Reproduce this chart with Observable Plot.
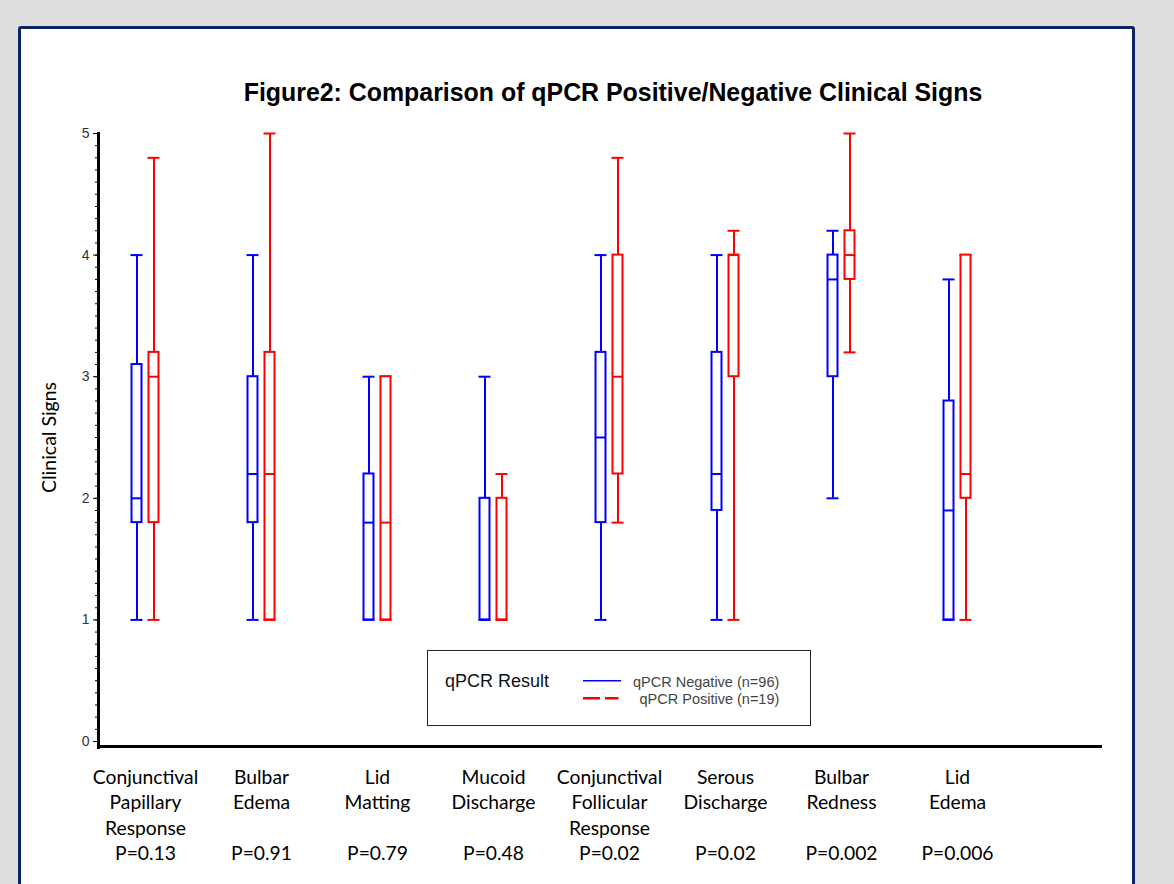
<!DOCTYPE html>
<html>
<head>
<meta charset="utf-8">
<script src="https://cdn.jsdelivr.net/npm/d3@7"></script>
<script src="https://cdn.jsdelivr.net/npm/@observablehq/plot@0.6"></script>
<style>
html, body { margin: 0; padding: 0; background: #dedede; width: 1174px; height: 884px; overflow: hidden; position: relative; }
#panel { position: absolute; left: 18px; top: 26px; width: 1111px; height: 900px; border: 3.5px solid #0c2461; border-radius: 3px; background: #fff; }
#title { position: absolute; left: 213px; top: 79.5px; width: 800px; text-align: center; font: bold 24.9px "Liberation Sans", Arial, sans-serif; line-height: 1; color: #000; white-space: nowrap; }
#chart { position: absolute; left: 0; top: 0; }
#legend { position: absolute; left: 427px; top: 650px; }
</style>
</head>
<body>
<div id="panel"></div>
<div id="chart"></div>
<div id="title">Figure2: Comparison of qPCR Positive/Negative Clinical Signs</div>
<svg id="legend" width="384" height="76"></svg>
<script>
// ---- data ----
const categories = ["Conjunctival Papillary Response", "Bulbar Edema", "Lid Matting", "Mucoid Discharge",
  "Conjunctival Follicular Response", "Serous Discharge", "Bulbar Redness", "Lid Edema"];
const categoryLabels = ["Conjunctival\nPapillary\nResponse", "Bulbar\nEdema", "Lid\nMatting", "Mucoid\nDischarge",
  "Conjunctival\nFollicular\nResponse", "Serous\nDischarge", "Bulbar\nRedness", "Lid\nEdema"];
const pValues = ["P=0.13", "P=0.91", "P=0.79", "P=0.48", "P=0.02", "P=0.02", "P=0.002", "P=0.006"];
const groups = ["qPCR Negative (n=96)", "qPCR Positive (n=19)"];
const legendTitle = "qPCR Result";
const yLabel = "Clinical Signs";
const yTicks = [0, 1, 2, 3, 4, 5];

// qPCR Negative
const negLow    = [1.0, 1.0, 1.0, 1.0, 1.0, 1.0, 2.0, 1.0];
const negQ1     = [1.8, 1.8, 1.0, 1.0, 1.8, 1.9, 3.0, 1.0];
const negMedian = [2.0, 2.2, 1.8, 1.0, 2.5, 2.2, 3.8, 1.9];
const negQ3     = [3.1, 3.0, 2.2, 2.0, 3.2, 3.2, 4.0, 2.8];
const negHigh   = [4.0, 4.0, 3.0, 3.0, 4.0, 4.0, 4.2, 3.8];
// qPCR Positive
const posLow    = [1.0, 1.0, 1.0, 1.0, 1.8, 1.0, 3.2, 1.0];
const posQ1     = [1.8, 1.0, 1.0, 1.0, 2.2, 3.0, 3.8, 2.0];
const posMedian = [3.0, 2.2, 1.8, 1.0, 3.0, 4.0, 4.0, 2.2];
const posQ3     = [3.2, 3.2, 3.0, 2.0, 4.0, 4.0, 4.2, 4.0];
const posHigh   = [4.8, 5.0, 3.0, 2.2, 4.8, 4.2, 5.0, 4.0];

// ---- table ----
const series = [
  {group: groups[0], low: negLow, q1: negQ1, median: negMedian, q3: negQ3, high: negHigh},
  {group: groups[1], low: posLow, q1: posQ1, median: posMedian, q3: posQ3, high: posHigh}
];
const rows = series.flatMap(s => categories.map((c, i) => ({
  category: c, group: s.group, low: s.low[i], q1: s.q1[i], median: s.median[i], q3: s.q3[i], high: s.high[i]
})));

const colors = ["#0000ff", "#ff0000"];
const offsets = [-8.5, 8.5];

function boxMarks(g, k) {
  const data = rows.filter(d => d.group === g);
  const common = {stroke: "group", strokeWidth: 2, dx: offsets[k]};
  return [
    Plot.ruleX(data, {x: "category", y1: "low", y2: "high", ...common}),
    Plot.ruleY(data, {x1: "category", x2: "category", y: "low", insetLeft: -6, insetRight: -6, ...common}),
    Plot.ruleY(data, {x1: "category", x2: "category", y: "high", insetLeft: -6, insetRight: -6, ...common}),
    Plot.rect(data, {x1: "category", x2: "category", y1: "q1", y2: "q3", insetLeft: -5, insetRight: -5, fill: "white", ...common}),
    Plot.ruleY(data, {x1: "category", x2: "category", y: "median", insetLeft: -5, insetRight: -5, ...common})
  ];
}

const chart = Plot.plot({
  width: 1174,
  height: 884,
  marginLeft: 98,
  marginRight: 72,
  marginTop: 133,
  marginBottom: 143,
  style: {background: "transparent", overflow: "visible", fontFamily: "'Liberation Sans', Arial, sans-serif"},
  x: {type: "point", domain: categories, range: [144.2, 958.5], padding: 0, axis: null},
  y: {domain: [0, 5]},
  color: {domain: groups, range: colors},
  marks: [
    Plot.axisY(d3.range(0, 5.001, 0.1), {tickSize: 3, tickFormat: () => "", label: null, stroke: "#000"}),
    Plot.axisY(yTicks, {tickSize: 5, tickPadding: 4, fontSize: 14, fill: "#333", stroke: "#000", label: null, tickFormat: d => String(d)}),
    Plot.frame({anchor: "left", strokeWidth: 3, stroke: "#000", insetBottom: -6}),
    Plot.ruleY([0], {dy: 5, strokeWidth: 3, stroke: "#000"}),
    ...groups.flatMap((g, k) => boxMarks(g, k)),
    Plot.text([yLabel], {frameAnchor: "left", textAnchor: "middle", rotate: -90, dx: -49, fontSize: 19.5, fontFamily: "Lato", fill: "#000"}),
    Plot.text(categories, {x: d => d, text: (d, i) => categoryLabels[i], frameAnchor: "bottom", lineAnchor: "top",
      dy: 24, fontSize: 19.3, lineHeight: 1.32, fontFamily: "Lato", fill: "#000"}),
    Plot.text(categories, {x: d => d, text: (d, i) => pValues[i], frameAnchor: "bottom", lineAnchor: "top",
      dy: 105, fontSize: 19.3, fontFamily: "Lato", fill: "#000"})
  ]
});
document.getElementById("chart").appendChild(chart);

// ---- legend ----
const lg = d3.select("#legend");
lg.append("rect").attr("x", 0.5).attr("y", 0.5).attr("width", 383).attr("height", 75)
  .attr("fill", "white").attr("stroke", "#222").attr("stroke-width", 1);
lg.append("text").attr("x", 18).attr("y", 36.7).attr("font-family", "'Liberation Sans', Arial, sans-serif")
  .attr("font-size", 18).attr("fill", "#111").text(legendTitle);
lg.append("line").attr("x1", 156).attr("x2", 194).attr("y1", 30.7).attr("y2", 30.7)
  .attr("stroke", colors[0]).attr("stroke-width", 1.5);
lg.append("line").attr("x1", 156).attr("x2", 191.5).attr("y1", 48.3).attr("y2", 48.3)
  .attr("stroke", colors[1]).attr("stroke-width", 2.5).attr("stroke-dasharray", "17 5");
lg.append("text").attr("x", 206).attr("y", 36.7).attr("font-family", "'Liberation Sans', Arial, sans-serif")
  .attr("font-size", 14.5).attr("fill", "#444").text(groups[0]);
lg.append("text").attr("x", 212.5).attr("y", 54).attr("font-family", "'Liberation Sans', Arial, sans-serif")
  .attr("font-size", 14.5).attr("fill", "#444").text(groups[1]);
</script>
</body>
</html>
